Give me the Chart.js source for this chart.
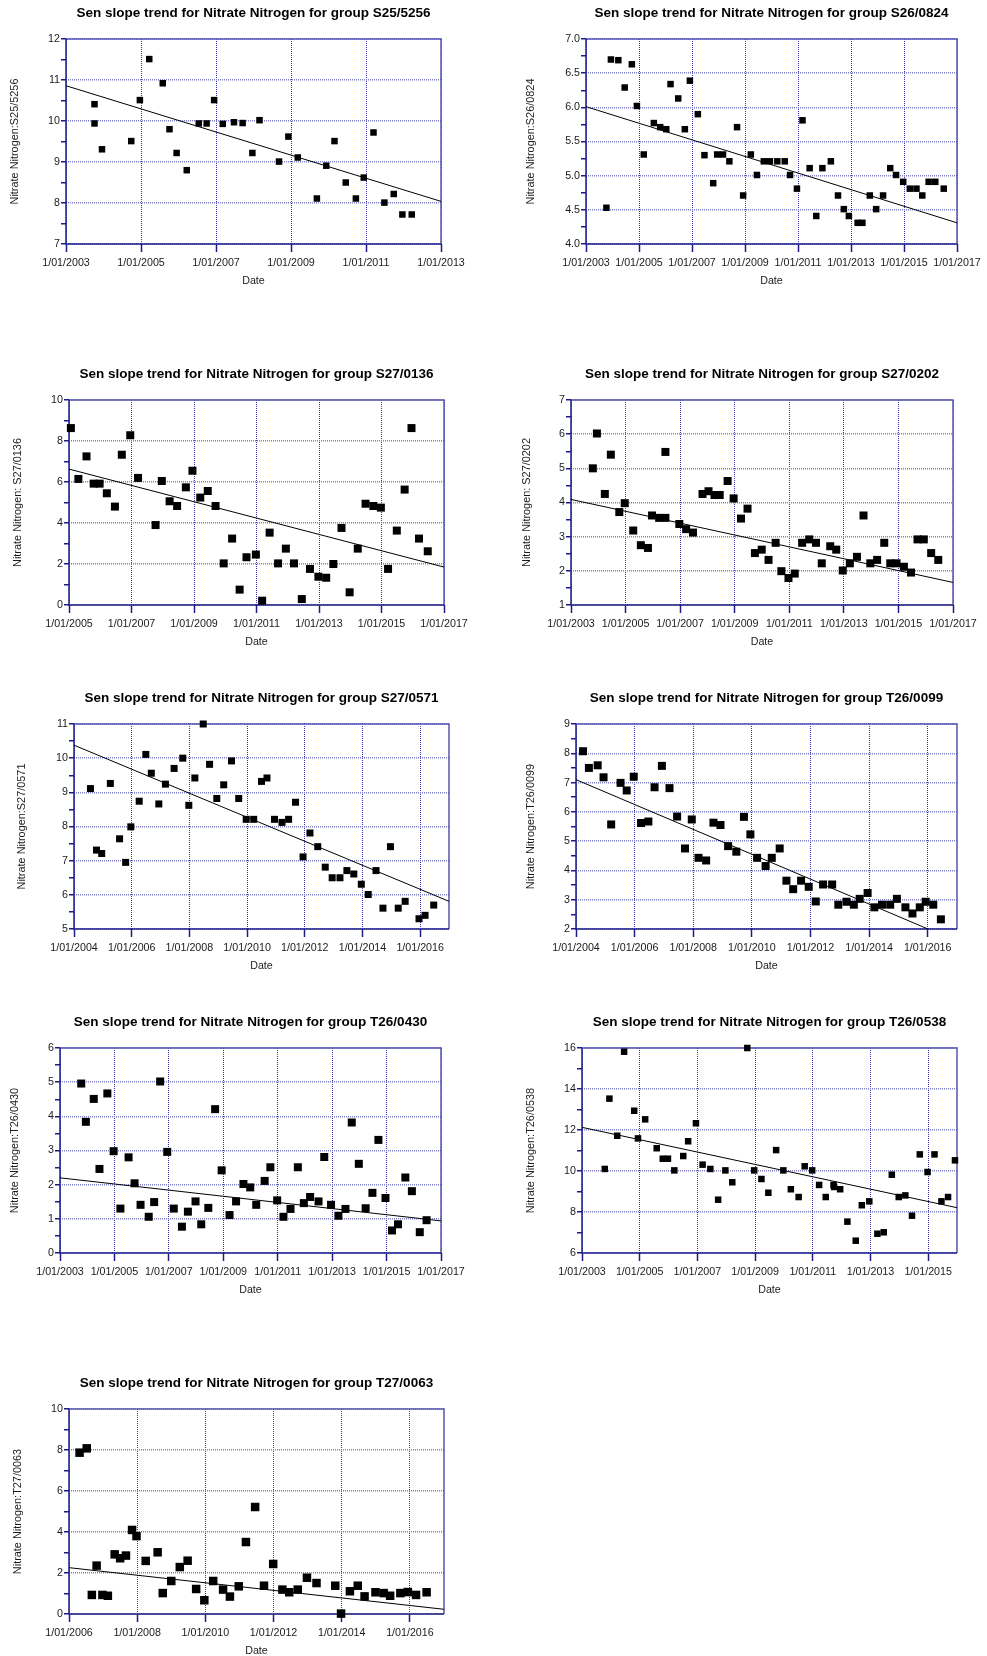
<!DOCTYPE html>
<html>
<head>
<meta charset="utf-8">
<script src="https://cdn.jsdelivr.net/npm/chart.js@4.4.1/dist/chart.umd.min.js"></script>
<style>
  html, body { margin: 0; padding: 0; background: #fff; overflow: hidden; width: 987px; height: 1656px; }
  canvas { position: absolute; }
</style>
</head>
<body>
<canvas id="c1"></canvas>
<canvas id="c2"></canvas>
<canvas id="c3"></canvas>
<canvas id="c4"></canvas>
<canvas id="c5"></canvas>
<canvas id="c6"></canvas>
<canvas id="c7"></canvas>
<canvas id="c8"></canvas>
<canvas id="c9"></canvas>
<script>
// Dados (datas em anos decimais, valores de nitrato)
const s25Dates = [2003.76, 2003.76, 2003.96, 2004.74, 2004.97, 2005.22, 2005.58, 2005.76, 2005.95, 2006.22, 2006.54, 2006.75, 2006.95, 2007.18, 2007.48, 2007.71, 2007.97, 2008.16, 2008.68, 2008.93, 2009.18, 2009.69, 2009.94, 2010.16, 2010.46, 2010.73, 2010.94, 2011.20, 2011.49, 2011.74, 2011.97, 2012.22];
const s25Nitrate = [10.41, 9.94, 9.31, 9.51, 10.51, 11.51, 10.92, 9.80, 9.22, 8.80, 9.94, 9.94, 10.51, 9.93, 9.97, 9.95, 9.22, 10.02, 9.01, 9.62, 9.11, 8.11, 8.91, 9.51, 8.50, 8.11, 8.62, 9.72, 8.01, 8.22, 7.72, 7.72];
const s25TrendDates = [2003, 2013];
const s25Trend = [10.86, 8.04];

const s26Dates = [2003.77, 2003.94, 2004.22, 2004.46, 2004.73, 2004.92, 2005.18, 2005.56, 2005.80, 2006.03, 2006.19, 2006.48, 2006.73, 2006.92, 2007.22, 2007.47, 2007.80, 2007.95, 2008.17, 2008.41, 2008.70, 2008.93, 2009.22, 2009.45, 2009.71, 2009.94, 2010.22, 2010.50, 2010.70, 2010.96, 2011.17, 2011.44, 2011.69, 2011.92, 2012.24, 2012.51, 2012.73, 2012.92, 2013.25, 2013.43, 2013.71, 2013.95, 2014.21, 2014.48, 2014.70, 2014.97, 2015.22, 2015.47, 2015.69, 2015.93, 2016.18, 2016.50];
const s26Nitrate = [4.53, 6.70, 6.69, 6.29, 6.63, 6.02, 5.31, 5.77, 5.71, 5.68, 6.34, 6.13, 5.68, 6.39, 5.90, 5.30, 4.89, 5.31, 5.31, 5.21, 5.71, 4.71, 5.31, 5.01, 5.21, 5.21, 5.21, 5.21, 5.01, 4.81, 5.81, 5.11, 4.41, 5.11, 5.21, 4.71, 4.51, 4.41, 4.31, 4.31, 4.71, 4.51, 4.71, 5.11, 5.01, 4.91, 4.81, 4.81, 4.71, 4.91, 4.91, 4.81];
const s26TrendDates = [2003, 2017];
const s26Trend = [6.01, 4.31];

const s270136Dates = [2005.06, 2005.30, 2005.56, 2005.79, 2005.98, 2006.21, 2006.47, 2006.69, 2006.96, 2007.21, 2007.77, 2007.97, 2008.22, 2008.46, 2008.74, 2008.95, 2009.20, 2009.44, 2009.69, 2009.95, 2010.22, 2010.46, 2010.68, 2010.98, 2011.18, 2011.42, 2011.69, 2011.94, 2012.20, 2012.45, 2012.71, 2012.98, 2013.23, 2013.46, 2013.72, 2013.98, 2014.24, 2014.49, 2014.74, 2014.98, 2015.21, 2015.49, 2015.74, 2015.96, 2016.20, 2016.48];
const s270136Nitrate = [8.63, 6.15, 7.25, 5.92, 5.92, 5.45, 4.80, 7.33, 8.28, 6.20, 3.90, 6.05, 5.06, 4.83, 5.74, 6.55, 5.24, 5.56, 4.83, 2.03, 3.24, 0.75, 2.33, 2.46, 0.21, 3.53, 2.03, 2.75, 2.03, 0.29, 1.76, 1.38, 1.33, 2.00, 3.76, 0.62, 2.75, 4.94, 4.83, 4.75, 1.76, 3.63, 5.63, 8.63, 3.24, 2.62];
const s270136TrendDates = [2005, 2017];
const s270136Trend = [6.63, 1.85];

const s270202Dates = [2003.80, 2003.95, 2004.24, 2004.46, 2004.77, 2004.97, 2005.28, 2005.56, 2005.82, 2005.97, 2006.23, 2006.46, 2006.46, 2006.97, 2007.22, 2007.47, 2007.82, 2008.04, 2008.26, 2008.45, 2008.74, 2008.96, 2009.23, 2009.47, 2009.74, 2009.99, 2010.24, 2010.50, 2010.71, 2010.97, 2011.20, 2011.47, 2011.73, 2011.98, 2012.19, 2012.50, 2012.72, 2012.96, 2013.22, 2013.48, 2013.72, 2013.97, 2014.22, 2014.48, 2014.70, 2014.93, 2015.20, 2015.46, 2015.70, 2015.93, 2016.20, 2016.46];
const s270202Nitrate = [5.00, 6.02, 4.25, 5.40, 3.72, 3.98, 3.18, 2.75, 2.67, 3.62, 3.55, 3.55, 5.48, 3.37, 3.22, 3.12, 4.25, 4.33, 4.22, 4.22, 4.63, 4.12, 3.53, 3.82, 2.52, 2.62, 2.32, 2.82, 1.99, 1.79, 1.92, 2.82, 2.92, 2.82, 2.22, 2.72, 2.62, 2.01, 2.22, 2.41, 3.62, 2.22, 2.32, 2.82, 2.22, 2.22, 2.12, 1.95, 2.92, 2.92, 2.52, 2.32];
const s270202TrendDates = [2003, 2017];
const s270202Trend = [4.09, 1.66];

const s270571Dates = [2004.57, 2004.78, 2004.96, 2005.26, 2005.58, 2005.79, 2005.97, 2006.26, 2006.49, 2006.68, 2006.94, 2007.17, 2007.47, 2007.77, 2007.98, 2008.19, 2008.48, 2008.70, 2008.95, 2009.19, 2009.46, 2009.71, 2009.97, 2010.23, 2010.50, 2010.69, 2010.95, 2011.21, 2011.44, 2011.68, 2011.94, 2012.18, 2012.45, 2012.71, 2012.95, 2013.22, 2013.46, 2013.70, 2013.96, 2014.20, 2014.47, 2014.71, 2014.97, 2015.24, 2015.48, 2015.96, 2016.17, 2016.47];
const s270571Nitrate = [9.11, 7.31, 7.21, 9.26, 7.64, 6.95, 7.99, 8.74, 10.11, 9.56, 8.66, 9.24, 9.70, 10.00, 8.62, 9.42, 11.00, 9.82, 8.82, 9.22, 9.92, 8.82, 8.21, 8.21, 9.32, 9.42, 8.21, 8.12, 8.21, 8.71, 7.11, 7.81, 7.41, 6.81, 6.50, 6.50, 6.71, 6.61, 6.31, 6.01, 6.71, 5.61, 7.41, 5.61, 5.81, 5.30, 5.40, 5.70];
const s270571TrendDates = [2004, 2017];
const s270571Trend = [10.38, 5.81];

const t260099Dates = [2004.24, 2004.44, 2004.74, 2004.94, 2005.20, 2005.52, 2005.73, 2005.97, 2006.22, 2006.47, 2006.68, 2006.93, 2007.19, 2007.45, 2007.72, 2007.95, 2008.18, 2008.44, 2008.69, 2008.93, 2009.19, 2009.47, 2009.73, 2009.95, 2010.18, 2010.47, 2010.68, 2010.95, 2011.18, 2011.41, 2011.68, 2011.94, 2012.18, 2012.43, 2012.74, 2012.95, 2013.23, 2013.48, 2013.68, 2013.95, 2014.18, 2014.44, 2014.72, 2014.95, 2015.24, 2015.48, 2015.73, 2015.93, 2016.19, 2016.45];
const t260099Nitrate = [8.07, 7.50, 7.59, 7.18, 5.57, 6.99, 6.73, 7.20, 5.62, 5.67, 6.84, 7.57, 6.81, 5.84, 4.75, 5.74, 4.43, 4.34, 5.63, 5.55, 4.83, 4.64, 5.83, 5.23, 4.43, 4.15, 4.43, 4.75, 3.65, 3.36, 3.65, 3.44, 2.94, 3.52, 3.52, 2.83, 2.93, 2.83, 3.03, 3.23, 2.74, 2.83, 2.83, 3.03, 2.74, 2.53, 2.74, 2.93, 2.83, 2.33];
const t260099TrendDates = [2004, 2017];
const t260099Trend = [7.10, 1.58];

const t260430Dates = [2003.78, 2003.95, 2004.24, 2004.45, 2004.74, 2004.97, 2005.22, 2005.52, 2005.74, 2005.96, 2006.26, 2006.46, 2006.68, 2006.94, 2007.18, 2007.48, 2007.70, 2007.98, 2008.19, 2008.45, 2008.70, 2008.94, 2009.23, 2009.47, 2009.74, 2009.99, 2010.21, 2010.52, 2010.73, 2010.98, 2011.21, 2011.47, 2011.74, 2011.96, 2012.19, 2012.50, 2012.71, 2012.96, 2013.23, 2013.49, 2013.72, 2013.98, 2014.23, 2014.48, 2014.70, 2014.96, 2015.20, 2015.42, 2015.69, 2015.93, 2016.22, 2016.47];
const t260430Nitrate = [4.96, 3.84, 4.51, 2.46, 4.67, 2.98, 1.30, 2.80, 2.04, 1.41, 1.06, 1.49, 5.02, 2.96, 1.30, 0.77, 1.21, 1.51, 0.84, 1.32, 4.21, 2.42, 1.11, 1.51, 2.02, 1.92, 1.41, 2.11, 2.51, 1.54, 1.06, 1.29, 2.51, 1.46, 1.64, 1.51, 2.81, 1.41, 1.09, 1.29, 3.82, 2.61, 1.31, 1.76, 3.31, 1.61, 0.66, 0.84, 2.21, 1.81, 0.61, 0.96];
const t260430TrendDates = [2003, 2017];
const t260430Trend = [2.20, 0.94];

const t260538Dates = [2003.79, 2003.95, 2004.22, 2004.46, 2004.81, 2004.94, 2005.19, 2005.59, 2005.80, 2005.98, 2006.20, 2006.51, 2006.68, 2006.95, 2007.18, 2007.45, 2007.72, 2007.97, 2008.21, 2008.73, 2008.97, 2009.22, 2009.46, 2009.73, 2009.98, 2010.24, 2010.51, 2010.72, 2010.98, 2011.22, 2011.45, 2011.72, 2011.74, 2011.95, 2012.20, 2012.49, 2012.70, 2012.96, 2013.24, 2013.46, 2013.74, 2013.98, 2014.21, 2014.44, 2014.71, 2014.98, 2015.22, 2015.46, 2015.69, 2015.93];
const t260538Nitrate = [10.10, 13.53, 11.72, 15.82, 12.94, 11.59, 12.52, 11.11, 10.60, 10.60, 10.03, 10.73, 11.45, 12.33, 10.31, 10.10, 8.60, 10.03, 9.45, 16.00, 10.03, 9.61, 8.94, 11.02, 10.03, 9.11, 8.73, 10.23, 10.03, 9.32, 8.73, 9.32, 9.22, 9.11, 7.53, 6.60, 8.33, 8.52, 6.94, 7.01, 9.82, 8.73, 8.81, 7.82, 10.81, 9.95, 10.81, 8.52, 8.73, 10.52];
const t260538TrendDates = [2003, 2016];
const t260538Trend = [12.13, 8.21];

const t270063Dates = [2006.31, 2006.52, 2006.67, 2006.81, 2006.98, 2007.14, 2007.34, 2007.50, 2007.67, 2007.85, 2007.98, 2008.25, 2008.60, 2008.75, 2009.00, 2009.25, 2009.48, 2009.73, 2009.97, 2010.23, 2010.52, 2010.72, 2010.98, 2011.19, 2011.46, 2011.72, 2011.99, 2012.26, 2012.46, 2012.71, 2012.98, 2013.26, 2013.81, 2013.98, 2014.24, 2014.47, 2014.67, 2014.99, 2015.23, 2015.42, 2015.72, 2015.94, 2016.18, 2016.49];
const t270063Nitrate = [7.87, 8.08, 0.93, 2.36, 0.93, 0.89, 2.91, 2.72, 2.85, 4.10, 3.80, 2.59, 3.01, 1.02, 1.61, 2.29, 2.60, 1.22, 0.67, 1.61, 1.19, 0.85, 1.35, 3.51, 5.22, 1.38, 2.44, 1.19, 1.06, 1.19, 1.77, 1.51, 1.38, 0.02, 1.11, 1.38, 0.86, 1.06, 1.02, 0.89, 1.02, 1.07, 0.93, 1.06];
const t270063TrendDates = [2006, 2017];
const t270063Trend = [2.26, 0.23];

// Rótulos dos eixos (anos e valores)
const years03to13 = [2003, 2005, 2007, 2009, 2011, 2013];
const years03to17 = [2003, 2005, 2007, 2009, 2011, 2013, 2015, 2017];
const years05to17 = [2005, 2007, 2009, 2011, 2013, 2015, 2017];
const years04to16 = [2004, 2006, 2008, 2010, 2012, 2014, 2016];
const years03to15 = [2003, 2005, 2007, 2009, 2011, 2013, 2015];
const years06to16 = [2006, 2008, 2010, 2012, 2014, 2016];

const yTicksS25 = [7, 8, 9, 10, 11, 12];
const yTicksS26 = [4.0, 4.5, 5.0, 5.5, 6.0, 6.5, 7.0];
const yTicks0to10 = [0, 2, 4, 6, 8, 10];
const yTicksS270202 = [1, 2, 3, 4, 5, 6, 7];
const yTicksS270571 = [5, 6, 7, 8, 9, 10, 11];
const yTicksT260099 = [2, 3, 4, 5, 6, 7, 8, 9];
const yTicksT260430 = [0, 1, 2, 3, 4, 5, 6];
const yTicksT260538 = [6, 8, 10, 12, 14, 16];

// Cores e fontes
const NAVY = "#1c1c86";
const FRAME_LIGHT = "#5656b4";
const V_GRID = "#3434b0";
const H_GRID = "#8080c8";
const TEXT = "#1a1a1a";
const FONT = "'Liberation Sans', Arial, sans-serif";

// Posição de cada painel: [esquerda, topo, direita, base, recuo título Y, lado do marcador]
const boxes = {
  c1: [66, 39, 441, 244, 6.6, 6.5],
  c2: [586, 39, 957, 244, 2.2, 6.5],
  c3: [69, 400, 444, 605, 6.7, 8],
  c4: [571, 400, 953, 605, 13.1, 8],
  c5: [74, 724, 449, 929, 5.9, 7],
  c6: [576, 724, 957, 929, 12.2, 8],
  c7: [60, 1048, 441, 1253, 12.6, 8],
  c8: [582, 1048, 957, 1253, 6.2, 6.5],
  c9: [69, 1409, 444, 1614, 6.7, 8.5],
};

const panels = [
  { id: "c1", group: "S25/5256", yLabel: "Nitrate Nitrogen:S25/5256", dates: s25Dates, values: s25Nitrate, trendDates: s25TrendDates, trend: s25Trend, xRange: [2003, 2013], xTicks: years03to13, yTicks: yTicksS25, yDec: 0 },
  { id: "c2", group: "S26/0824", yLabel: "Nitrate Nitrogen:S26/0824", dates: s26Dates, values: s26Nitrate, trendDates: s26TrendDates, trend: s26Trend, xRange: [2003, 2017], xTicks: years03to17, yTicks: yTicksS26, yDec: 1 },
  { id: "c3", group: "S27/0136", yLabel: "Nitrate Nitrogen: S27/0136", dates: s270136Dates, values: s270136Nitrate, trendDates: s270136TrendDates, trend: s270136Trend, xRange: [2005, 2017], xTicks: years05to17, yTicks: yTicks0to10, yDec: 0 },
  { id: "c4", group: "S27/0202", yLabel: "Nitrate Nitrogen: S27/0202", dates: s270202Dates, values: s270202Nitrate, trendDates: s270202TrendDates, trend: s270202Trend, xRange: [2003, 2017], xTicks: years03to17, yTicks: yTicksS270202, yDec: 0 },
  { id: "c5", group: "S27/0571", yLabel: "Nitrate Nitrogen:S27/0571", dates: s270571Dates, values: s270571Nitrate, trendDates: s270571TrendDates, trend: s270571Trend, xRange: [2004, 2017], xTicks: years04to16, yTicks: yTicksS270571, yDec: 0 },
  { id: "c6", group: "T26/0099", yLabel: "Nitrate Nitrogen:T26/0099", dates: t260099Dates, values: t260099Nitrate, trendDates: t260099TrendDates, trend: t260099Trend, xRange: [2004, 2017], xTicks: years04to16, yTicks: yTicksT260099, yDec: 0 },
  { id: "c7", group: "T26/0430", yLabel: "Nitrate Nitrogen:T26/0430", dates: t260430Dates, values: t260430Nitrate, trendDates: t260430TrendDates, trend: t260430Trend, xRange: [2003, 2017], xTicks: years03to17, yTicks: yTicksT260430, yDec: 0 },
  { id: "c8", group: "T26/0538", yLabel: "Nitrate Nitrogen:T26/0538", dates: t260538Dates, values: t260538Nitrate, trendDates: t260538TrendDates, trend: t260538Trend, xRange: [2003, 2016], xTicks: years03to15, yTicks: yTicksT260538, yDec: 0 },
  { id: "c9", group: "T27/0063", yLabel: "Nitrate Nitrogen:T27/0063", dates: t270063Dates, values: t270063Nitrate, trendDates: t270063TrendDates, trend: t270063Trend, xRange: [2006, 2017], xTicks: years06to16, yTicks: yTicks0to10, yDec: 0 },
];

// Moldura do gráfico (os quatro lados)
const framePlugin = {
  id: "frame",
  beforeDatasetsDraw(chart) {
    const { ctx, chartArea: a } = chart;
    ctx.save();
    ctx.lineWidth = 1.5;
    ctx.strokeStyle = FRAME_LIGHT;
    ctx.beginPath();
    ctx.moveTo(a.left, a.top);
    ctx.lineTo(a.right, a.top);
    ctx.lineTo(a.right, a.bottom);
    ctx.stroke();
    ctx.strokeStyle = NAVY;
    ctx.beginPath();
    ctx.moveTo(a.left, a.top);
    ctx.lineTo(a.left, a.bottom);
    ctx.lineTo(a.right, a.bottom);
    ctx.stroke();
    ctx.restore();
  },
};

function drawPanel(p) {
  const canvas = document.getElementById(p.id);
  const [L, T, R, B, yTitlePad, side] = boxes[p.id];
  canvas.width = R - L + 64 + 30;
  canvas.height = B - T + 40 + 50;
  canvas.style.left = L - 64 + "px";
  canvas.style.top = T - 40 + "px";

  const points = p.dates.map((d, i) => ({ x: d, y: p.values[i] }));
  const trendLine = p.trendDates.map((d, i) => ({ x: d, y: p.trend[i] }));

  new Chart(canvas, {
    type: "scatter",
    data: {
      datasets: [
        {
          data: points,
          pointStyle: "rect",
          pointRadius: side / Math.SQRT2,
          backgroundColor: "#000",
          borderWidth: 0,
          clip: false,
        },
        {
          data: trendLine,
          showLine: true,
          pointRadius: 0,
          borderColor: "#000",
          borderWidth: 1,
        },
      ],
    },
    options: {
      responsive: false,
      animation: false,
      events: [],
      layout: { padding: { left: 0, right: 30, top: 0, bottom: 0 } },
      plugins: {
        legend: { display: false },
        tooltip: { enabled: false },
        title: {
          display: true,
          text: "Sen slope trend for Nitrate Nitrogen for group " + p.group,
          fullSize: false,
          color: "#000",
          font: { family: FONT, size: 13.5, weight: "bold" },
          padding: { top: 6, bottom: 17.8 },
        },
      },
      scales: {
        x: {
          type: "linear",
          min: p.xRange[0],
          max: p.xRange[1],
          afterBuildTicks: (s) => {
            s.ticks = p.xTicks.map((v) => ({ value: v }));
          },
          afterFit: (s) => {
            s.height = 50;
            s.paddingLeft = 0;
            s.paddingRight = 0;
          },
          ticks: {
            autoSkip: false,
            maxRotation: 0,
            padding: 5,
            color: TEXT,
            font: { family: FONT, size: 10.7 },
            callback: (v) => "1/01/" + v,
          },
          grid: { color: V_GRID, lineWidth: 1, tickLength: 8, tickColor: NAVY, tickWidth: 1.5 },
          border: { display: false, dash: [1, 1] },
          title: {
            display: true,
            text: "Date",
            color: TEXT,
            font: { family: FONT, size: 10.7 },
            padding: { top: 0, bottom: 6.4 },
          },
        },
        y: {
          type: "linear",
          min: p.yTicks[0],
          max: p.yTicks[p.yTicks.length - 1],
          afterBuildTicks: (s) => {
            const t = [];
            p.yTicks.forEach((v, i) => {
              t.push({ value: v });
              if (i < p.yTicks.length - 1) t.push({ value: (v + p.yTicks[i + 1]) / 2 });
            });
            s.ticks = t;
          },
          afterFit: (s) => {
            s.width = 64;
            s.paddingTop = 0;
            s.paddingBottom = 0;
          },
          ticks: {
            autoSkip: false,
            padding: 1,
            color: TEXT,
            font: { family: FONT, size: 10.7 },
            callback: (v) => (p.yTicks.includes(v) ? v.toFixed(p.yDec) : ""),
          },
          grid: {
            color: (c) => (c.tick && p.yTicks.includes(c.tick.value) ? H_GRID : "rgba(0,0,0,0)"),
            lineWidth: 1.5,
            tickLength: 5,
            tickColor: NAVY,
            tickWidth: 1.5,
          },
          border: { display: false, dash: [1, 1] },
          title: {
            display: true,
            text: p.yLabel,
            color: TEXT,
            font: { family: FONT, size: 10.9 },
            padding: { top: yTitlePad, bottom: 0 },
          },
        },
      },
    },
    plugins: [framePlugin],
  });
}

document.addEventListener("DOMContentLoaded", () => {
  panels.forEach(drawPanel);
});
</script>
</body>
</html>
